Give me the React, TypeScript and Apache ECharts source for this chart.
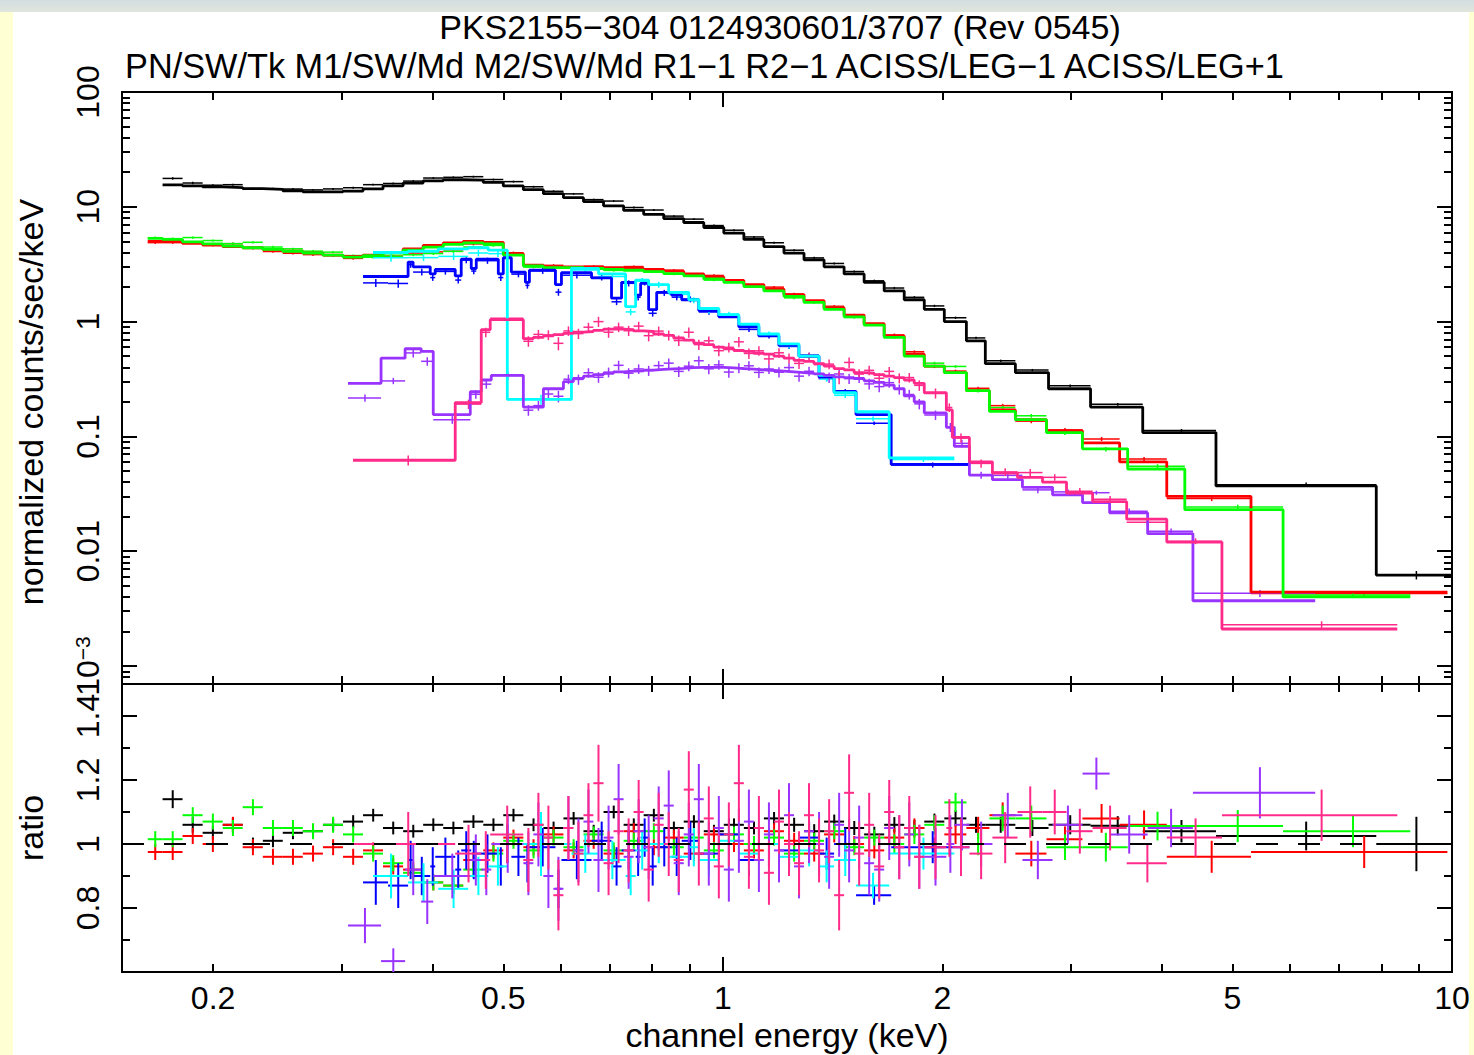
import React, { useEffect, useRef } from "react";
import * as echarts from "echarts";

// ---------- texts ----------
const TITLE_LINE_1 = "PKS2155−304 0124930601/3707 (Rev 0545)";
const TITLE_LINE_2 = "PN/SW/Tk M1/SW/Md M2/SW/Md R1−1 R2−1 ACISS/LEG−1 ACISS/LEG+1";
const X_NAME = "channel energy (keV)";
const Y_TOP_NAME = "normalized counts/sec/keV";
const Y_RATIO_NAME = "ratio";

// ---------- axes ----------
const X_RANGE = [0.15, 10];
const Y_TOP_RANGE = [0.000697, 100];
const RATIO_RANGE = [0.6, 1.5];
const X_LABELS = [0.2, 0.5, 1, 2, 5, 10];
const X_MINOR_TICKS = [0.2, 0.3, 0.4, 0.5, 0.6, 0.7, 0.8, 0.9, 2, 3, 4, 5, 6, 7, 8, 9];
const X_MAJOR_TICKS = [1, 10];
const Y_TOP_LABELS = [0.001, 0.01, 0.1, 1, 10, 100];
const Y_TOP_DECADES = [0.001, 0.01, 0.1, 1, 10];
const TICK_MULTS = [2, 3, 4, 5, 6, 7, 8, 9];
const Y_TOP_EXTRA_MINOR = [0.0008, 0.0009];
const RATIO_LABELS = [0.8, 1, 1.2, 1.4];
const RATIO_MAJOR_TICKS = [0.8, 1.0, 1.2, 1.4];
const RATIO_MINOR_TICKS = [0.7, 0.9, 1.1, 1.3];
const RATIO_MODEL = 1;

// ---------- data: bin edges (keV), model (counts/s/keV), data/model ratio, ratio error ----------
const FINE_EDGES = [0.1705, 0.1816, 0.1935, 0.2062, 0.2196, 0.234, 0.2492, 0.2655, 0.2829, 0.3014, 0.3211, 0.342, 0.3644, 0.3882, 0.4136, 0.4406, 0.4694, 0.5, 0.5327, 0.5675, 0.6046, 0.6441, 0.6862, 0.7311, 0.7789, 0.8298, 0.884, 0.9417, 1.0032, 1.0688, 1.1385, 1.213, 1.2923, 1.3768, 1.4667, 1.5625, 1.6646, 1.7734, 1.8893, 2.0127, 2.158];

const PN_EDGES = FINE_EDGES.concat([2.291, 2.519, 2.797, 3.194, 3.766, 4.746, 7.873, 10.0]);
const PN_MODEL = [15.5, 15.2, 14.9, 14.7, 14.4, 14.2, 13.8, 13.5, 13.5, 13.7, 14.3, 15.2, 16.1, 16.8, 17.2, 17.1, 16.3, 15.2, 14.1, 13.0, 12.0, 11.1, 10.2, 9.3, 8.6, 7.9, 7.3, 6.6, 5.9, 5.2, 4.5, 3.95, 3.45, 3.0, 2.6, 2.2, 1.85, 1.55, 1.28, 1.0, 0.68, 0.43, 0.36, 0.26, 0.18, 0.108, 0.037, 0.0062];
const PN_RATIO = [1.14, 1.06, 1.035, 1.06, 1.0, 1.01, 1.035, 1.04, 1.06, 1.07, 1.09, 1.05, 1.04, 1.06, 1.05, 1.07, 1.06, 1.09, 1.06, 1.05, 1.08, 1.04, 1.1, 1.06, 1.09, 1.05, 1.07, 1.04, 1.06, 1.05, 1.08, 1.06, 1.04, 1.07, 1.05, 1.03, 1.06, 1.05, 1.07, 1.08, 1.06, 1.06, 1.05, 1.06, 1.057, 1.04, 1.025, 1.0];
const PN_ERR = [0.028, 0.025, 0.022, 0.022, 0.02, 0.02, 0.02, 0.02, 0.02, 0.02, 0.02, 0.02, 0.02, 0.02, 0.02, 0.02, 0.02, 0.02, 0.02, 0.02, 0.02, 0.02, 0.02, 0.02, 0.02, 0.02, 0.02, 0.02, 0.02, 0.02, 0.02, 0.022, 0.022, 0.022, 0.022, 0.024, 0.024, 0.025, 0.025, 0.025, 0.025, 0.025, 0.025, 0.03, 0.03, 0.035, 0.045, 0.085];

const M1_EDGES = [0.1627].concat(FINE_EDGES, [2.321, 2.519, 2.779, 3.113, 3.501, 4.063, 5.301, 9.856]);
const M1_MODEL = [5.0, 5.0, 4.8, 4.65, 4.5, 4.4, 4.25, 4.1, 3.95, 3.8, 3.7, 3.8, 4.0, 4.3, 4.6, 4.85, 5.0, 4.9, 3.9, 3.1, 3.0, 3.0, 3.0, 2.95, 2.9, 2.85, 2.75, 2.6, 2.45, 2.28, 2.1, 1.92, 1.72, 1.52, 1.32, 1.14, 0.96, 0.75, 0.52, 0.41, 0.36, 0.25, 0.17, 0.14, 0.112, 0.088, 0.06, 0.03, 0.0044];
const M1_RATIO = [0.975, 0.975, 1.025, 1.0, 1.06, 0.99, 0.96, 0.96, 0.97, 0.99, 0.96, 0.98, 0.93, 0.92, 0.88, 0.87, 0.95, 0.98, 1.02, 0.99, 1.03, 0.98, 1.01, 0.97, 1.04, 0.99, 1.02, 0.97, 1.03, 1.0, 0.98, 1.04, 1.01, 0.97, 1.03, 1.0, 0.98, 1.02, 1.05, 0.99, 1.03, 1.05, 1.09, 0.97, 1.015, 1.08, 1.06, 0.96, 0.975];
const M1_ERR = [0.025, 0.025, 0.025, 0.025, 0.025, 0.025, 0.025, 0.025, 0.025, 0.025, 0.025, 0.025, 0.025, 0.025, 0.025, 0.025, 0.025, 0.025, 0.025, 0.025, 0.025, 0.025, 0.025, 0.025, 0.025, 0.025, 0.025, 0.025, 0.025, 0.025, 0.025, 0.025, 0.025, 0.025, 0.025, 0.025, 0.025, 0.03, 0.03, 0.03, 0.03, 0.035, 0.04, 0.04, 0.04, 0.045, 0.045, 0.05, 0.05];

const M2_EDGES = [0.1627].concat(FINE_EDGES, [2.321, 2.519, 2.779, 3.113, 3.591, 4.301, 5.866, 8.766]);
const M2_MODEL = [5.3, 5.2, 4.95, 4.75, 4.55, 4.4, 4.25, 4.1, 3.95, 3.8, 3.65, 3.75, 3.95, 4.2, 4.45, 4.7, 4.85, 4.75, 3.8, 3.05, 2.95, 2.95, 2.9, 2.85, 2.8, 2.72, 2.62, 2.5, 2.35, 2.2, 2.02, 1.85, 1.66, 1.47, 1.28, 1.1, 0.93, 0.73, 0.5, 0.41, 0.36, 0.25, 0.165, 0.14, 0.108, 0.078, 0.052, 0.023, 0.004];
const M2_RATIO = [1.015, 1.015, 1.09, 1.07, 1.05, 1.115, 1.05, 1.05, 1.04, 1.06, 1.03, 0.97, 0.94, 0.91, 0.88, 0.87, 0.92, 0.97, 1.01, 0.98, 1.02, 0.99, 1.03, 0.98, 1.01, 1.04, 0.99, 1.02, 0.98, 1.03, 1.0, 1.02, 0.97, 1.01, 1.04, 0.99, 1.02, 1.0, 1.03, 1.06, 1.13, 1.0, 1.08, 1.08, 0.99, 0.99, 1.056, 1.056, 1.04];
const M2_ERR = [0.025, 0.025, 0.025, 0.025, 0.025, 0.025, 0.025, 0.025, 0.025, 0.025, 0.025, 0.025, 0.025, 0.025, 0.025, 0.025, 0.025, 0.025, 0.025, 0.025, 0.025, 0.025, 0.025, 0.025, 0.025, 0.025, 0.025, 0.025, 0.025, 0.025, 0.025, 0.025, 0.025, 0.025, 0.025, 0.025, 0.025, 0.03, 0.03, 0.03, 0.03, 0.035, 0.04, 0.04, 0.04, 0.045, 0.045, 0.05, 0.05];

const RGS1_EDGES = [0.3211, 0.3475, 0.3702, 0.3761, 0.397, 0.4033, 0.4296, 0.4378, 0.4519, 0.4591, 0.4922, 0.5, 0.5129, 0.5361, 0.543, 0.5895, 0.6008, 0.6607, 0.7037, 0.7264, 0.7594, 0.7715, 0.7912, 0.8116, 0.8509, 0.8783, 0.9269, 0.9874, 1.0519, 1.1206, 1.1938, 1.2718, 1.355, 1.4211, 1.5231, 1.7019, 2.1786];
const RGS1_MODEL = [2.47, 2.47, 3.3, 3.0, 2.6, 2.85, 2.5, 3.5, 2.9, 3.5, 2.6, 3.6, 2.7, 2.2, 2.8, 2.1, 2.67, 2.4, 1.6, 2.2, 1.7, 2.15, 1.27, 1.8, 1.7, 1.55, 1.25, 1.1, 0.9, 0.75, 0.62, 0.5, 0.33, 0.246, 0.155, 0.057];
const RGS1_RATIO = [0.88, 0.87, 0.95, 0.9, 0.93, 0.96, 0.92, 0.98, 0.95, 0.97, 0.93, 1.0, 0.96, 0.94, 0.99, 0.86, 0.95, 1.01, 0.93, 0.98, 0.96, 1.02, 0.93, 0.99, 0.96, 1.01, 0.97, 1.03, 0.95, 1.0, 0.98, 1.02, 0.97, 1.0, 0.84, 0.99];
const RGS1_ERR = [0.07, 0.07, 0.06, 0.06, 0.06, 0.06, 0.06, 0.06, 0.06, 0.06, 0.06, 0.06, 0.06, 0.06, 0.06, 0.06, 0.06, 0.06, 0.06, 0.06, 0.06, 0.06, 0.06, 0.06, 0.06, 0.06, 0.05, 0.05, 0.05, 0.05, 0.05, 0.05, 0.05, 0.05, 0.03, 0.05];

const RGS2_EDGES = [0.3314, 0.3702, 0.4072, 0.4476, 0.4768, 0.5064, 0.6201, 0.6755, 0.7357, 0.7594, 0.7912, 0.8428, 0.8981, 0.9269, 0.9874, 1.0519, 1.1206, 1.1938, 1.2718, 1.355, 1.4211, 1.5231, 1.6912, 2.0773];
const RGS2_MODEL = [4.0, 4.1, 4.3, 4.4, 4.2, 0.21, 2.9, 2.6, 1.35, 2.3, 2.1, 1.8, 1.55, 1.3, 1.15, 0.95, 0.78, 0.64, 0.5, 0.34, 0.24, 0.164, 0.065];
const RGS2_RATIO = [0.9, 0.88, 0.86, 0.9, 0.93, 1.0, 0.97, 0.95, 0.9, 0.98, 1.0, 0.96, 0.99, 0.95, 1.01, 0.97, 1.0, 0.96, 0.98, 0.93, 0.95, 0.87, 0.97];
const RGS2_ERR = [0.07, 0.06, 0.06, 0.06, 0.06, 0.1, 0.06, 0.06, 0.06, 0.06, 0.06, 0.06, 0.06, 0.05, 0.05, 0.05, 0.05, 0.05, 0.05, 0.05, 0.05, 0.04, 0.05];

// shared narrow grid for the LETG spectra between 0.53 and 1.89 keV
const LEG_MID_EDGES = [0.5327, 0.5498, 0.5675, 0.5856, 0.6046, 0.6238, 0.6441, 0.6645, 0.6862, 0.7082, 0.7311, 0.7545, 0.7789, 0.8037, 0.8298, 0.8564, 0.884, 0.9125, 0.9417, 0.9719, 1.0032, 1.0354, 1.0688, 1.103, 1.1385, 1.1752, 1.213, 1.2521, 1.2923, 1.3336, 1.3768, 1.4211, 1.4667, 1.5136, 1.5625, 1.6127, 1.6646, 1.7181, 1.7734, 1.8302, 1.8893];

const LEGM_EDGES = [0.3062, 0.3399, 0.3667, 0.3858, 0.4008, 0.4505, 0.4664, 0.4814].concat(LEG_MID_EDGES, [2.0257, 2.0773, 2.1786, 2.3429, 2.5758, 2.8327, 3.1143, 3.3922, 3.8249, 4.4129, 6.492]);
const LEGM_MODEL = [0.29, 0.48, 0.58, 0.55, 0.155, 0.245, 0.31, 0.34,
  0.18, 0.18, 0.26, 0.26, 0.3, 0.32, 0.335, 0.345, 0.355, 0.365, 0.37, 0.372, 0.378, 0.383, 0.388, 0.392, 0.397, 0.4, 0.4, 0.4,
  0.395, 0.39, 0.385, 0.38, 0.375, 0.37, 0.365, 0.36, 0.355, 0.35, 0.34, 0.33, 0.325, 0.318, 0.305, 0.295, 0.28, 0.26, 0.225, 0.2,
  0.16, 0.12, 0.082, 0.046, 0.042, 0.036, 0.031, 0.0265, 0.0216, 0.0142, 0.0037];
const LEGM_RATIO = [0.745, 0.634, 0.92, 0.82, 0.9, 0.95, 0.92, 1.0,
  0.94, 1.03, 0.9, 0.86, 1.05, 0.98, 1.07, 0.95, 1.02, 1.14, 0.96, 1.04, 0.99, 1.08, 1.12, 0.94, 1.03, 1.14, 0.97, 1.05,
  0.92, 1.01, 1.07, 0.95, 1.03, 0.98, 1.09, 0.93, 1.04, 1.0, 0.96, 1.06, 0.98, 1.02, 0.94, 0.92, 1.05, 0.99, 1.03, 0.96,
  0.96, 1.0, 1.06, 1.0, 1.09, 0.95, 1.06, 1.22, 1.03, 1.05, 1.16];
const LEGM_ERR = [0.055, 0.04, 0.08, 0.07, 0.07, 0.08, 0.08, 0.09,
  0.1, 0.1, 0.1, 0.1, 0.1, 0.1, 0.1, 0.1, 0.1, 0.11, 0.1, 0.1, 0.1, 0.1, 0.11, 0.1, 0.1, 0.11, 0.1, 0.1,
  0.1, 0.1, 0.1, 0.1, 0.1, 0.1, 0.1, 0.1, 0.1, 0.1, 0.1, 0.1, 0.1, 0.1, 0.1, 0.1, 0.1, 0.1, 0.1, 0.1,
  0.09, 0.09, 0.08, 0.07, 0.07, 0.06, 0.06, 0.05, 0.06, 0.06, 0.08];

const LEGP_EDGES = [0.3111, 0.4296, 0.4664, 0.4798].concat(LEG_MID_EDGES, [2.0257, 2.0642, 2.1786, 2.3429, 2.5357, 2.7444, 2.9605, 3.2146, 3.5801, 4.0633, 4.8363, 8.414]);
const LEGP_MODEL = [0.062, 0.197, 0.85, 1.04,
  0.71, 0.73, 0.75, 0.77, 0.79, 0.81, 0.82, 0.84, 0.86, 0.86, 0.85, 0.83, 0.82, 0.78, 0.76, 0.72, 0.69, 0.65, 0.63, 0.6,
  0.58, 0.56, 0.55, 0.53, 0.52, 0.5, 0.48, 0.46, 0.45, 0.43, 0.41, 0.39, 0.38, 0.36, 0.355, 0.345, 0.335, 0.325, 0.31, 0.29,
  0.24, 0.17, 0.098, 0.06, 0.048, 0.044, 0.04, 0.032, 0.027, 0.019, 0.012, 0.0021];
const LEGP_RATIO = [1.0, 0.97, 0.95, 1.03,
  0.95, 1.06, 1.02, 0.84, 1.05, 0.97, 1.09, 1.19, 0.94, 1.04, 0.98, 1.1, 0.92, 1.06, 1.0, 0.95, 1.17, 0.97, 1.08, 0.93,
  1.03, 1.19, 0.96, 1.05, 0.91, 1.07, 1.0, 0.94, 1.09, 0.98, 1.04, 0.84, 1.16, 0.97, 1.06, 0.93, 1.1, 0.99, 1.05, 0.96,
  0.99, 1.05, 0.99, 0.97, 1.02, 1.1, 1.1, 1.04, 1.05, 0.94, 1.02, 1.09];
const LEGP_ERR = [0.1, 0.09, 0.09, 0.09,
  0.1, 0.1, 0.1, 0.11, 0.1, 0.1, 0.1, 0.12, 0.1, 0.1, 0.1, 0.1, 0.1, 0.1, 0.1, 0.1, 0.12, 0.1, 0.1, 0.1,
  0.1, 0.12, 0.1, 0.1, 0.1, 0.1, 0.1, 0.1, 0.1, 0.1, 0.1, 0.11, 0.12, 0.1, 0.1, 0.1, 0.1, 0.1, 0.1, 0.1,
  0.1, 0.09, 0.09, 0.08, 0.08, 0.08, 0.07, 0.07, 0.07, 0.06, 0.06, 0.08];

const COLORS = ["#000000", "#ff0000", "#00ff00", "#0000ff", "#00ffff", "#9933ff", "#ff2a8a"];

const DATASETS = [
  { edges: PN_EDGES, model: PN_MODEL, ratio: PN_RATIO, err: PN_ERR },
  { edges: M1_EDGES, model: M1_MODEL, ratio: M1_RATIO, err: M1_ERR },
  { edges: M2_EDGES, model: M2_MODEL, ratio: M2_RATIO, err: M2_ERR },
  { edges: RGS1_EDGES, model: RGS1_MODEL, ratio: RGS1_RATIO, err: RGS1_ERR },
  { edges: RGS2_EDGES, model: RGS2_MODEL, ratio: RGS2_RATIO, err: RGS2_ERR },
  { edges: LEGM_EDGES, model: LEGM_MODEL, ratio: LEGM_RATIO, err: LEGM_ERR },
  { edges: LEGP_EDGES, model: LEGP_MODEL, ratio: LEGP_RATIO, err: LEGP_ERR },
];

// ---------- helpers ----------
const FONT = "'Liberation Sans', Arial, Helvetica, sans-serif";
const lg = (v: number) => Math.log10(v);
const Y_TOP_MINOR_TICKS = Y_TOP_EXTRA_MINOR.concat(
  ...Y_TOP_DECADES.map((d) => TICK_MULTS.map((m) => Number((m * d).toPrecision(2))))
);

function stepPoints(edges: number[], model: number[]) {
  const pts: number[][] = [];
  for (let i = 0; i < model.length; i++) {
    pts.push([lg(edges[i]), lg(model[i])]);
    pts.push([lg(edges[i + 1]), lg(model[i])]);
  }
  return pts;
}

function topCrosses(edges: number[], model: number[], ratio: number[], err: number[]) {
  return model.map((m, i) => {
    const v = m * ratio[i];
    const lo = edges[i], hi = edges[i + 1];
    return [lg(lo), lg(hi), lg(v), lg(v - m * err[i]), lg(v + m * err[i]), lg((lo + hi) / 2)];
  });
}

function ratioCrosses(edges: number[], ratio: number[], err: number[]) {
  return ratio.map((r, i) => {
    const lo = edges[i], hi = edges[i + 1];
    return [lg(lo), lg(hi), r, r - err[i], r + err[i], lg((lo + hi) / 2)];
  });
}

function crossRenderer(color: string, width: number) {
  return (params: any, api: any) => {
    const a = api.coord([api.value(0), api.value(2)]);
    const b = api.coord([api.value(1), api.value(2)]);
    const c = api.coord([api.value(5), api.value(3)]);
    const d = api.coord([api.value(5), api.value(4)]);
    return {
      type: "group",
      children: [
        { type: "line", shape: { x1: a[0], y1: a[1], x2: b[0], y2: b[1] }, style: { stroke: color, lineWidth: width } },
        { type: "line", shape: { x1: c[0], y1: c[1], x2: d[0], y2: d[1] }, style: { stroke: color, lineWidth: width } },
      ],
    };
  };
}

const fmtX = (v: number) => String(Number(Math.pow(10, v).toPrecision(2)));
const fmtYTop = (v: number) => {
  const e = Math.round(v);
  if (e <= -3) return "{a|10}{b|−3}";
  return "{a|" + String(Number(Math.pow(10, e).toPrecision(1))) + "}";
};
const fmtRatio = (v: number) => String(Number(v.toFixed(1)));

const AXIS_LINE = { show: true, onZero: false, lineStyle: { color: "#000", width: 2 } };
const LABEL_STYLE = { color: "#000", fontSize: 32, fontFamily: FONT };
const NAME_STYLE = { color: "#000", fontSize: 34, fontFamily: FONT };

function xAxis(grid: number, pos: string, major: boolean, labels: boolean, name?: string) {
  return {
    type: "value",
    gridIndex: grid,
    position: pos,
    min: lg(X_RANGE[0]),
    max: lg(X_RANGE[1]),
    axisLine: AXIS_LINE,
    axisTick: {
      show: true,
      inside: true,
      length: major ? 15 : 8,
      lineStyle: { color: "#000", width: 2 },
      customValues: (major ? X_MAJOR_TICKS : X_MINOR_TICKS).map(lg),
    },
    axisLabel: { show: labels, customValues: X_LABELS.map(lg), formatter: fmtX, margin: 10, ...LABEL_STYLE },
    splitLine: { show: false },
    name: name || "",
    nameLocation: "middle",
    nameGap: 46,
    nameMoveOverlap: false,
    nameTextStyle: NAME_STYLE,
  };
}

function yTopAxis(pos: string, major: boolean, labels: boolean, name?: string) {
  return {
    type: "value",
    gridIndex: 0,
    position: pos,
    min: lg(Y_TOP_RANGE[0]),
    max: lg(Y_TOP_RANGE[1]),
    axisLine: AXIS_LINE,
    axisTick: {
      show: true,
      inside: true,
      length: major ? 15 : 8,
      lineStyle: { color: "#000", width: 2 },
      customValues: (major ? Y_TOP_LABELS : Y_TOP_MINOR_TICKS).map(lg),
    },
    axisLabel: {
      show: labels,
      rotate: 90,
      margin: 18,
      customValues: Y_TOP_LABELS.map(lg),
      formatter: fmtYTop,
      ...LABEL_STYLE,
      rich: {
        a: { fontSize: 32, fontFamily: FONT, color: "#000", lineHeight: 32 },
        b: { fontSize: 21, fontFamily: FONT, color: "#000", lineHeight: 21, verticalAlign: "top" },
      },
    },
    splitLine: { show: false },
    name: name || "",
    nameLocation: "middle",
    nameGap: 74,
    nameMoveOverlap: false,
    nameTextStyle: { ...NAME_STYLE, padding: [0, 28, 0, 0] },
  };
}

function yRatioAxis(pos: string, major: boolean, labels: boolean, name?: string) {
  return {
    type: "value",
    gridIndex: 1,
    position: pos,
    min: RATIO_RANGE[0],
    max: RATIO_RANGE[1],
    axisLine: AXIS_LINE,
    axisTick: {
      show: true,
      inside: true,
      length: major ? 15 : 8,
      lineStyle: { color: "#000", width: 2 },
      customValues: major ? RATIO_MAJOR_TICKS : RATIO_MINOR_TICKS,
    },
    axisLabel: { show: labels, rotate: 90, margin: 18, customValues: RATIO_LABELS, formatter: fmtRatio, ...LABEL_STYLE },
    splitLine: { show: false },
    name: name || "",
    nameLocation: "middle",
    nameGap: 74,
    nameMoveOverlap: false,
    nameTextStyle: NAME_STYLE,
  };
}

function buildOption() {
  const series: any[] = [];
  DATASETS.forEach((ds, i) => {
    series.push({
      type: "custom",
      xAxisIndex: 0,
      yAxisIndex: 0,
      clip: true,
      z: 2,
      renderItem: crossRenderer(COLORS[i], 1.5),
      encode: { x: [0, 1, 5], y: [2, 3, 4] },
      data: topCrosses(ds.edges, ds.model, ds.ratio, ds.err),
    });
  });
  DATASETS.forEach((ds, i) => {
    series.push({
      type: "line",
      xAxisIndex: 0,
      yAxisIndex: 0,
      z: 3,
      showSymbol: false,
      symbol: "none",
      lineStyle: { color: COLORS[i], width: 2.8 },
      data: stepPoints(ds.edges, ds.model),
    });
  });
  DATASETS.forEach((ds, i) => {
    series.push({
      type: "custom",
      xAxisIndex: 4,
      yAxisIndex: 4,
      clip: true,
      z: 2,
      renderItem: crossRenderer(COLORS[i], 2),
      encode: { x: [0, 1, 5], y: [2, 3, 4] },
      data: ratioCrosses(ds.edges, ds.ratio, ds.err),
    });
  });
  series.push({
    type: "line",
    xAxisIndex: 4,
    yAxisIndex: 4,
    z: 4,
    symbol: "none",
    lineStyle: { color: "#000", width: 2, type: [22, 20] },
    data: [
      [lg(X_RANGE[0]), RATIO_MODEL],
      [lg(X_RANGE[1]), RATIO_MODEL],
    ],
  });

  return {
    animation: false,
    backgroundColor: "transparent",
    grid: [
      { left: 122, top: 92, width: 1330, height: 592, containLabel: false, outerBoundsMode: "none" },
      { left: 122, top: 684, width: 1330, height: 288, containLabel: false, outerBoundsMode: "none" },
    ],
    xAxis: [
      xAxis(0, "bottom", false, false),
      xAxis(0, "bottom", true, false),
      xAxis(0, "top", false, false),
      xAxis(0, "top", true, false),
      xAxis(1, "bottom", false, true, X_NAME),
      xAxis(1, "bottom", true, false),
      xAxis(1, "top", false, false),
      xAxis(1, "top", true, false),
    ],
    yAxis: [
      yTopAxis("left", false, false),
      yTopAxis("left", true, true, Y_TOP_NAME),
      yTopAxis("right", false, false),
      yTopAxis("right", true, false),
      yRatioAxis("left", false, false),
      yRatioAxis("left", true, true, Y_RATIO_NAME),
      yRatioAxis("right", false, false),
      yRatioAxis("right", true, false),
    ],
    graphic: [
      {
        type: "text",
        x: 780,
        y: 27,
        style: { text: TITLE_LINE_1, font: `34px ${FONT}`, fill: "#000", textAlign: "center", textVerticalAlign: "middle" },
      },
      {
        type: "text",
        x: 125,
        y: 66,
        style: { text: TITLE_LINE_2, font: `34.3px ${FONT}`, fill: "#000", textAlign: "left", textVerticalAlign: "middle" },
      },
    ],
    series,
  };
}

export default function App() {
  const ref = useRef<HTMLDivElement>(null);
  useEffect(() => {
    if (!ref.current) return;
    const chart = echarts.init(ref.current, null, { renderer: "svg" });
    chart.setOption(buildOption() as any);
    return () => chart.dispose();
  }, []);
  return (
    <div style={{ position: "fixed", left: 0, top: 0, width: 1474, height: 1055, overflow: "hidden", background: "#ffffd4" }}>
      <div
        style={{
          position: "absolute",
          left: 0,
          top: 0,
          width: 1474,
          height: 12,
          background: "linear-gradient(to bottom, #d3dde2, #e0e6dc)",
        }}
      />
      <div style={{ position: "absolute", left: 13, top: 12, width: 1456, height: 1043, background: "#ffffff" }} />
      <div ref={ref} style={{ position: "absolute", left: 0, top: 0, width: 1474, height: 1055 }} />
    </div>
  );
}
